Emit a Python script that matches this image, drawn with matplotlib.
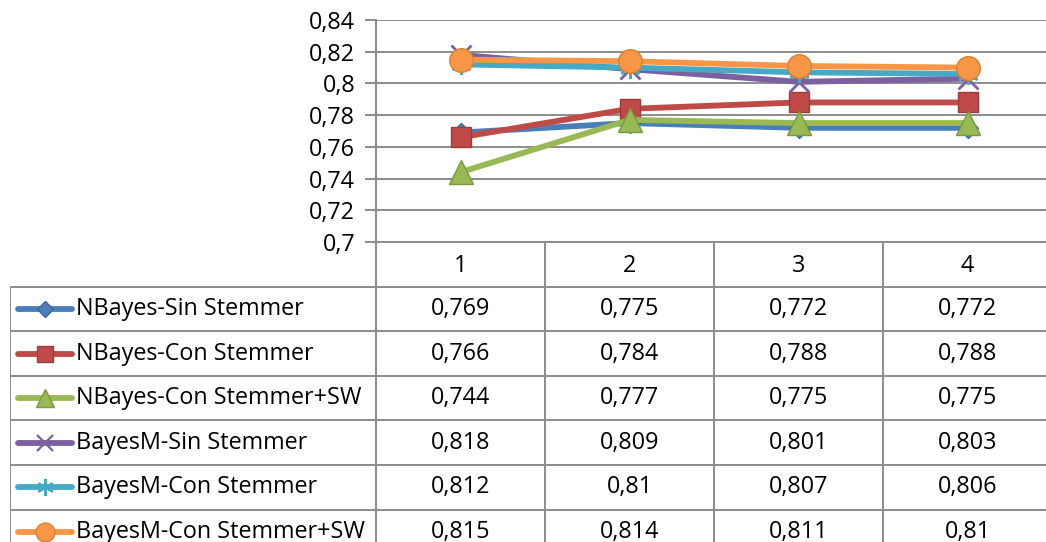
import matplotlib
matplotlib.use("Agg")
import matplotlib.pyplot as plt
from matplotlib.lines import Line2D

# categories and accuracy per configuration
categories = ["1", "2", "3", "4"]
series_names = [
    "NBayes-Sin Stemmer",
    "NBayes-Con Stemmer",
    "NBayes-Con Stemmer+SW",
    "BayesM-Sin Stemmer",
    "BayesM-Con Stemmer",
    "BayesM-Con Stemmer+SW",
]
nb_sin = [0.769, 0.775, 0.772, 0.772]
nb_con = [0.766, 0.784, 0.788, 0.788]
nb_con_sw = [0.744, 0.777, 0.775, 0.775]
bm_sin = [0.818, 0.809, 0.801, 0.803]
bm_con = [0.812, 0.810, 0.807, 0.806]
bm_con_sw = [0.815, 0.814, 0.811, 0.810]
series_values = [nb_sin, nb_con, nb_con_sw, bm_sin, bm_con, bm_con_sw]
y_ticks = [0.70, 0.72, 0.74, 0.76, 0.78, 0.80, 0.82, 0.84]

colors = ["#4A7EBB", "#BE4B48", "#98B954", "#7D60A0", "#46AAC5", "#F79646"]
edges = ["#3A6699", "#9E3B38", "#7A9A3E", "#6A4F8A", "#3B93AB", "#D9822F"]
markers = ["D", "s", "^", "x", (6, 2, 0), "o"]
msizes = [10, 15, 17, 15, 15, 17]

plt.rcParams["font.family"] = ["Open Sans", "DejaVu Sans"]
FS = 16.8
GRID = "#8C8C8C"

W, H = 1046, 542
fig = plt.figure(figsize=(W / 100, H / 100), dpi=100)

# chart area: x from 376px to 1052px, y from 20px to 242px
col_w = 169.0
ax = fig.add_axes([376 / W, (H - 242) / H, (4 * col_w) / W, 222 / H])
x = list(range(len(categories)))
for vals, c, ec, m, ms in zip(series_values, colors, edges, markers, msizes):
    ax.plot(x, vals, color=c, lw=4.2, marker=m, markersize=ms,
            markerfacecolor=c, markeredgecolor=c if m in ("x", (6, 2, 0)) else ec,
            markeredgewidth=2 if m in ("x", (6, 2, 0)) else 1, solid_joinstyle="round",
            zorder=3)
ax.set_xlim(-0.5, 3.5)
ax.set_ylim(0.70, 0.84)
ax.set_yticks(y_ticks)
ax.set_yticklabels([f"{v:.2f}".rstrip("0").replace(".", ",") for v in y_ticks], fontsize=FS)
ax.set_xticks([])
ax.yaxis.grid(True, color=GRID, lw=1.4)
ax.tick_params(axis="y", length=8, width=1.4, color=GRID, pad=7)
for side in ("top", "right", "bottom"):
    ax.spines[side].set_visible(False)
ax.spines["left"].set_color(GRID)
ax.spines["left"].set_linewidth(1.4)
ax.set_clip_on(False)

# data table underneath, in pixel-like units
row_h = 44.6
n_rows = len(series_names) + 1
tab_left, tab_right = 10, 376 + 4 * col_w
tab_top = 242
tab_h = n_rows * row_h
tab = fig.add_axes([tab_left / W, (H - tab_top - tab_h) / H, (tab_right - tab_left) / W, tab_h / H])
tab.set_xlim(tab_left, tab_right)
tab.set_ylim(tab_top + tab_h, tab_top)
tab.axis("off")

col_edges = [376 + i * col_w for i in range(5)]
lk = dict(color=GRID, lw=1.4, solid_capstyle="butt")
# header row
tab.plot([376, tab_right], [tab_top, tab_top], **lk)
for xe in col_edges:
    tab.plot([xe, xe], [tab_top, tab_top + tab_h], **lk)
tab.plot([tab_left, tab_left], [tab_top + row_h, tab_top + tab_h], **lk)
for r in range(1, n_rows + 1):
    yy = tab_top + r * row_h
    tab.plot([tab_left, tab_right], [yy, yy], **lk)

for i, cat in enumerate(categories):
    tab.text(376 + (i + 0.5) * col_w, tab_top + row_h / 2 + 2, cat,
             ha="center", va="center", fontsize=FS)

for r, (name, vals) in enumerate(zip(series_names, series_values)):
    yc = tab_top + (r + 1.5) * row_h
    tab.add_line(Line2D([18, 72], [yc, yc], color=colors[r], lw=4.2, solid_capstyle="round"))
    m = markers[r]
    tab.add_line(Line2D([45], [yc], marker=m, markersize=msizes[r] * 0.8,
                        color=colors[r], markerfacecolor=colors[r],
                        markeredgecolor=colors[r] if m in ("x", (6, 2, 0)) else edges[r],
                        markeredgewidth=1.6 if m in ("x", (6, 2, 0)) else 1))
    tab.text(76, yc, name, ha="left", va="center", fontsize=FS)
    for i, v in enumerate(vals):
        label = f"{v:.3f}".rstrip("0").replace(".", ",")
        tab.text(376 + (i + 0.5) * col_w, yc, label, ha="center", va="center", fontsize=FS)

fig.savefig("out.png", dpi=100)
